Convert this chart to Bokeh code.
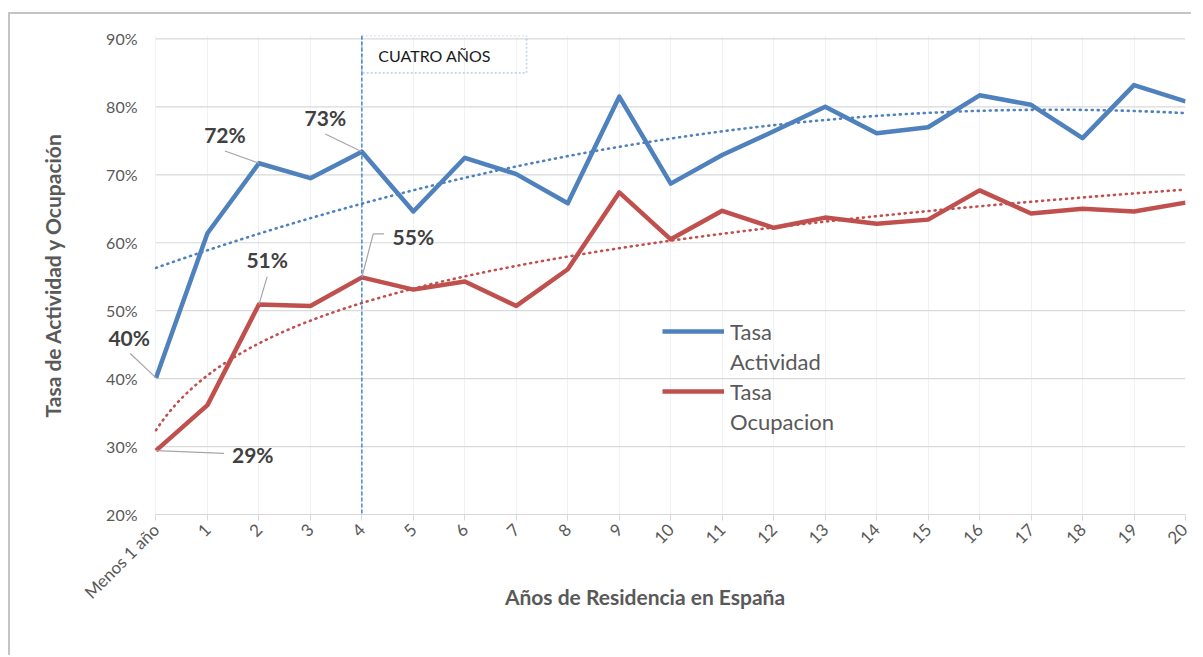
import numpy as np
from bokeh.plotting import figure
from bokeh.models import (FixedTicker, PrintfTickFormatter, Label, Arrow, Span,
                          BoxAnnotation, Legend, LegendItem)
from bokeh.embed import file_html
from bokeh.resources import INLINE

categories = ["Menos 1 año"] + [str(i) for i in range(1, 21)]
tasa_actividad = [40.1, 61.4, 71.7, 69.5, 73.4, 64.6, 72.5, 70.1, 65.8, 81.5, 68.7,
                  72.9, 76.4, 80.0, 76.1, 77.0, 81.7, 80.3, 75.4, 83.2, 80.8]
tasa_ocupacion = [29.4, 36.1, 50.9, 50.7, 54.9, 53.1, 54.3, 50.7, 56.1, 67.4, 60.5,
                  64.7, 62.2, 63.7, 62.8, 63.4, 67.7, 64.3, 65.0, 64.6, 65.9]
y_ticks = [20, 30, 40, 50, 60, 70, 80, 90]

BLUE = "#4f81bd"
RED = "#c0504d"
GRAY = "#595959"
FONT = "Lato"

xs = list(range(len(categories)))
last = len(categories) - 1

p = figure(width=1183, height=643, output_backend="svg", toolbar_location=None,
           x_range=(-1.0, last), y_range=(20, 90.5),
           min_border_left=94, min_border_right=8, min_border_top=21,
           min_border_bottom=143)
p.styles = {"border-top": "2px solid #c4c4c4", "border-left": "2px solid #c4c4c4",
            "margin-left": "8px", "margin-top": "12px"}
p.outline_line_color = None
p.background_fill_color = "white"

# y axis (labels pulled right so they sit left of the first category)
p.yaxis.ticker = FixedTicker(ticks=y_ticks)
p.yaxis.formatter = PrintfTickFormatter(format="%d%%")
p.yaxis.axis_line_color = None
p.yaxis.major_tick_line_color = None
p.yaxis.minor_tick_line_color = None
p.yaxis.major_label_text_font = FONT
p.yaxis.major_label_text_font_size = "16px"
p.yaxis.major_label_text_color = GRAY
p.yaxis.major_label_standoff = -39
p.yaxis.axis_label = "Tasa de Actividad y Ocupación"
p.yaxis.axis_label_text_font = FONT
p.yaxis.axis_label_text_font_style = "bold"
p.yaxis.axis_label_text_font_size = "21px"
p.yaxis.axis_label_text_color = GRAY
p.yaxis.axis_label_standoff = 38

# x axis
p.xaxis.ticker = FixedTicker(ticks=xs)
p.xaxis.bounds = (0, last)
p.xaxis.major_label_overrides = {i: c for i, c in zip(xs, categories)}
p.xaxis.major_label_orientation = np.pi / 4
p.xaxis.axis_line_color = "#d9d9d9"
p.xaxis.axis_line_width = 1.2
p.xaxis.major_tick_line_color = "#d9d9d9"
p.xaxis.major_tick_out = 6
p.xaxis.major_tick_in = 0
p.xaxis.minor_tick_line_color = None
p.xaxis.major_label_text_font = FONT
p.xaxis.major_label_text_font_size = "17px"
p.xaxis.major_label_text_color = GRAY
p.xaxis.major_label_standoff = 6
p.xaxis.axis_label = "Años de Residencia en España"
p.xaxis.axis_label_text_font = FONT
p.xaxis.axis_label_text_font_style = "bold"
p.xaxis.axis_label_text_font_size = "21px"
p.xaxis.axis_label_text_color = GRAY
p.xaxis.axis_label_standoff = -29

# grids: horizontal lines only over the category span
p.ygrid.visible = False
p.segment(x0=[0] * len(y_ticks), x1=[last] * len(y_ticks), y0=y_ticks, y1=y_ticks,
          line_color="#d9d9d9", line_width=1.2)
p.xgrid.ticker = FixedTicker(ticks=xs)
p.xgrid.grid_line_color = "#eef1f5"
p.xgrid.grid_line_width = 1

# trend lines computed from the data (as the spreadsheet does)
t = np.arange(1, len(categories) + 1)
tt = np.linspace(1, len(categories), 400)
cb = np.polyfit(t, tasa_actividad, 2)
cr = np.polyfit(np.log(t), tasa_ocupacion, 1)
p.line(tt - 1, np.polyval(cb, tt), line_color=BLUE, line_width=2.6,
       line_dash="1 5", line_cap="round")
p.line(tt - 1, np.polyval(cr, np.log(tt)), line_color=RED, line_width=2.6,
       line_dash="1 5", line_cap="round")

# four-year marker
p.add_layout(Span(location=4, dimension="height", line_color="#2e75c8",
                  line_width=1.3, line_dash="4 2"))
p.add_layout(BoxAnnotation(left=4, right=7.2, bottom=85.0, top=90.5,
                           fill_alpha=0, line_color="#2e75c8", line_width=1.6,
                           line_dash="2 2"))
p.add_layout(Label(x=4.32, y=87.6, text="CUATRO AÑOS", text_font=FONT,
                   text_font_size="16px", text_color="#1a1a1a",
                   text_baseline="middle"))

# series
r_act = p.line(xs, tasa_actividad, line_color=BLUE, line_width=4.5,
               line_join="round")
r_ocu = p.line(xs, tasa_ocupacion, line_color=RED, line_width=4.5,
               line_join="round")

# callouts: (series, index, text, label x, label y, leader end points)
callouts = [
    (tasa_actividad, 0, "40%", -0.52, 46.0, [(-0.5, 43.7)]),
    (tasa_actividad, 2, "72%", 1.34, 76.0, [(1.34, 73.5)]),
    (tasa_actividad, 4, "73%", 3.29, 78.4, [(3.29, 76.0)]),
    (tasa_ocupacion, 0, "29%", 1.88, 28.8, [(1.32, 29.0)]),
    (tasa_ocupacion, 2, "51%", 2.16, 57.6, [(2.16, 55.0)]),
    (tasa_ocupacion, 4, "55%", 5.0, 60.9, [(4.22, 61.3), (4.43, 61.3)]),
]
for series, i, txt, lx, ly, pts in callouts:
    path = [(xs[i], series[i])] + pts
    for (x0, y0), (x1, y1) in zip(path[:-1], path[1:]):
        p.add_layout(Arrow(end=None, x_start=x0, y_start=y0, x_end=x1, y_end=y1,
                           line_color="#a6a6a6", line_width=1.2))
    p.add_layout(Label(x=lx, y=ly, text=txt, text_font=FONT,
                       text_font_style="bold", text_font_size="21px",
                       text_color="#404040", text_align="center",
                       text_baseline="middle"))

# legend: second text line carried by an invisible entry
blank1 = p.line(x=[], y=[], line_alpha=0)
blank2 = p.line(x=[], y=[], line_alpha=0)
legend = Legend(items=[LegendItem(label="Tasa", renderers=[r_act]),
                       LegendItem(label="Actividad", renderers=[blank1]),
                       LegendItem(label="Tasa", renderers=[r_ocu]),
                       LegendItem(label="Ocupacion", renderers=[blank2])],
                location=(558, 78), glyph_width=62, glyph_height=20,
                label_height=30, label_text_font=FONT,
                label_text_font_size="22px", label_text_color=GRAY,
                border_line_color=None, background_fill_alpha=0,
                spacing=0, padding=0, margin=0, label_standoff=6)
p.add_layout(legend)

open("out.html", "w").write(file_html(p, INLINE))
